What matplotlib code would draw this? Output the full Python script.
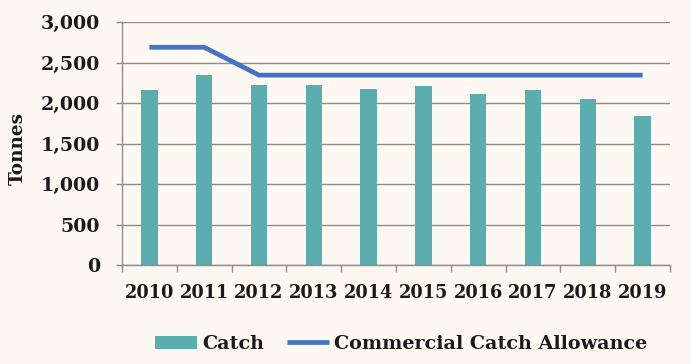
import matplotlib
matplotlib.use('Agg')
import matplotlib.pyplot as plt
import numpy as np

years = ['2010', '2011', '2012', '2013', '2014', '2015', '2016', '2017', '2018', '2019']
catch = [2160, 2345, 2220, 2220, 2170, 2210, 2110, 2160, 2050, 1840]
allowance = [2688, 2688, 2344, 2344, 2344, 2344, 2344, 2344, 2344, 2344]

bg = '#fdf8f2'
bar_col = '#5baead'
line_col = '#4472c4'
txt_col = '#1a1a1a'
grid_col = '#8c8c8c'

plt.rcParams['font.family'] = ['DejaVu Serif']
plt.rcParams['font.weight'] = 'bold'

fig = plt.figure(figsize=(6.91, 3.64), dpi=100, facecolor=bg)
ax = fig.add_axes([122 / 691, 1 - 265 / 364, 548 / 691, 243 / 364], facecolor=bg)

x = np.arange(len(years))
bars = ax.bar(x, catch, width=0.3, color=bar_col, label='Catch', zorder=2)
line, = ax.plot(x, allowance, color=line_col, lw=3.4, solid_capstyle='butt',
                solid_joinstyle='miter', label='Commercial Catch Allowance', zorder=3)

ax.set_xlim(-0.5, len(years) - 0.5)
ax.set_ylim(0, 3000)
ax.set_yticks(np.arange(0, 3001, 500))
ax.set_yticklabels(['{:,}'.format(v) for v in range(0, 3001, 500)])
ax.grid(axis='y', color=grid_col, lw=1.0, zorder=0)

ax.set_xticks(x)
ax.set_xticklabels(years)
ax.set_xticks(np.arange(-0.5, len(years), 1), minor=True)
ax.tick_params(axis='x', which='major', length=0, pad=14, labelsize=12.8, labelcolor=txt_col)
ax.tick_params(axis='x', which='minor', length=5, width=1, color=grid_col, direction='out')
ax.tick_params(axis='y', length=4.3, width=1, color=grid_col, pad=11.5, labelsize=13.7, labelcolor=txt_col)

for s in ['top', 'right']:
    ax.spines[s].set_visible(False)
for s in ['left', 'bottom']:
    ax.spines[s].set_color(grid_col)
    ax.spines[s].set_linewidth(1)

ax.set_ylabel('Tonnes', fontsize=13.3, color=txt_col, fontweight='bold')
ax.yaxis.set_label_coords(-0.174, 0.48)

leg = fig.legend([bars, line], ['Catch', 'Commercial Catch Allowance'], loc='center',
                 bbox_to_anchor=(401 / 691, 1 - 344 / 364), ncol=2,
                 frameon=False, fontsize=13.8, handlelength=2.2, handleheight=0.68,
                 handletextpad=0.25, columnspacing=1.2, borderaxespad=0)
for t in leg.get_texts():
    t.set_color(txt_col)

fig.savefig('out.png', dpi=100, facecolor=bg)
